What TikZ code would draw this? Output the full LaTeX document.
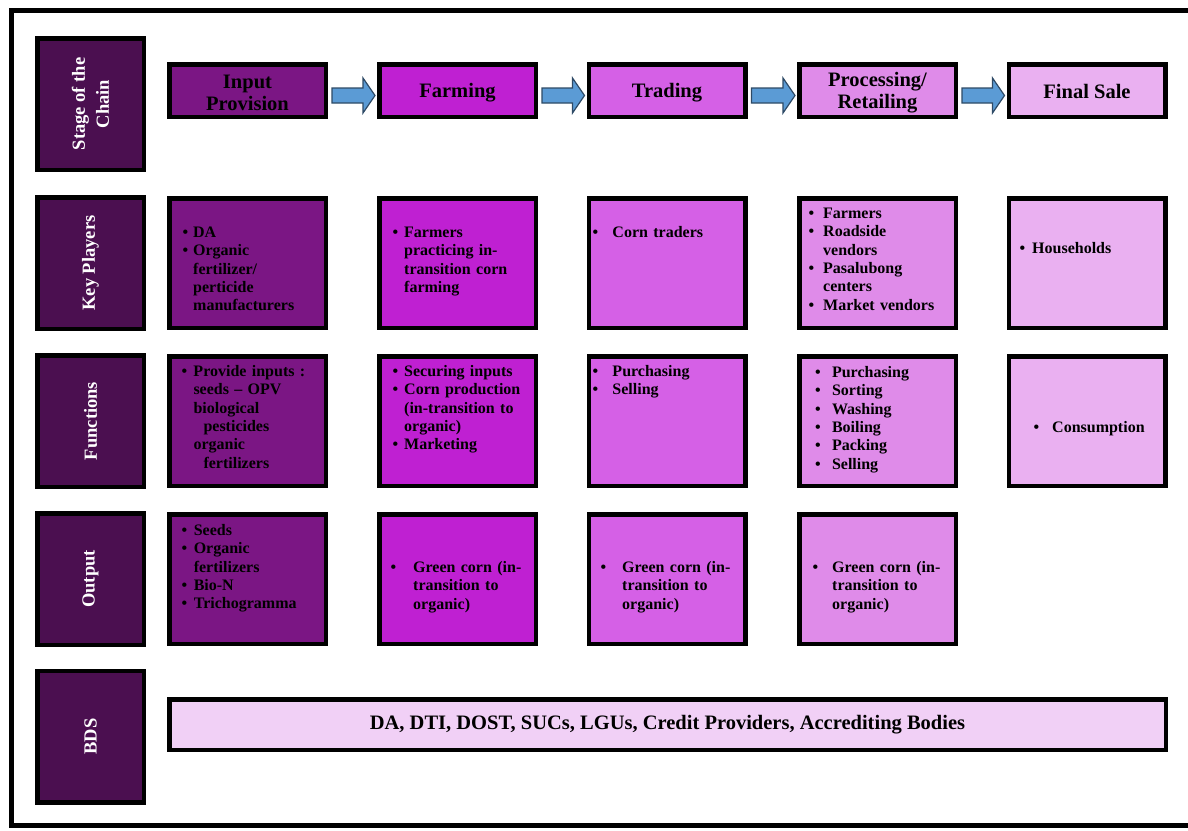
\documentclass[tikz,border=0pt]{standalone}
\usepackage{fontspec}
\setmainfont{Liberation Serif}
\usetikzlibrary{calc}

\definecolor{labcol}{HTML}{4B0F50}
\definecolor{colA}{HTML}{7B1684}
\definecolor{colB}{HTML}{BF20D2}
\definecolor{colC}{HTML}{D560E6}
\definecolor{colD}{HTML}{DF8BE9}
\definecolor{colE}{HTML}{EAB0F1}
\definecolor{colBDS}{HTML}{F1D0F6}
\definecolor{arrowfill}{HTML}{5B9BD5}
\definecolor{arrowline}{HTML}{2E4A66}

% bullet item with hanging indent \bulw; \brk breaks a line inside an item
\newlength{\bulw}
\newcommand{\brk}{\hfil\break}
\newcommand{\bitem}[1]{\par\noindent\hangindent=\bulw\hangafter=1\makebox[\bulw][l]{\rule{0pt}{12pt}\textbullet}#1\par}

\newcommand{\bodyfont}{\bfseries\fontsize{16}{18.3}\selectfont}
\newcommand{\headfont}{\bfseries\fontsize{20.5}{22}\selectfont}
\newcommand{\labfont}{\bfseries\fontsize{18.5}{24}\selectfont}

% block arrow between two stage boxes
\newcommand{\chainarrow}[2]{%
  \draw[fat] ($(#1.east)+(4,-2.5)$) -- ($(#2.west)+(-14,-2.5)$)
    -- ($(#2.west)+(-14,-12.5)$) -- ($(#2.west)+(-2,5)$)
    -- ($(#2.west)+(-14,22.5)$) -- ($(#2.west)+(-14,12.5)$)
    -- ($(#1.east)+(4,12.5)$) -- cycle;}

\begin{document}
\begin{tikzpicture}[x=1pt, y=-1pt,
  box/.style={draw=black, line width=4.5pt, inner sep=0pt,
    minimum width=156.5pt, minimum height=129.5pt},
  labbox/.style={box, fill=labcol, minimum width=106.5pt, minimum height=131.5pt},
  labtext/.style={rotate=90, text=white, font=\labfont, align=center, inner sep=0pt},
  stagebox/.style={box, minimum height=52.5pt},
  headtext/.style={font=\headfont, align=center, inner sep=0pt},
  txt/.style={anchor=north west, inner sep=0pt, text width=200pt, font=\bodyfont,
    execute at begin node=\raggedright},
  fat/.style={draw=arrowline, line width=1.2pt, fill=arrowfill, line join=miter}]

\useasboundingbox (0,0) rectangle (1188,830);

% outer frame
\draw[line width=5pt] (11,10) rectangle (1205,825);

% row labels
\node[labbox] (lstage) at (90.5,104) {};
\node[labtext] at (lstage) {Stage of the\\Chain};
\node[labbox] (lkey) at (90.5,263) {};
\node[labtext] at (lkey) {Key Players};
\node[labbox] (lfun) at (90.5,421) {};
\node[labtext] at (lfun) {Functions};
\node[labbox] (lout) at (90.5,579) {};
\node[labtext] at (lout) {Output};
\node[labbox] (lbds) at (90.5,736.5) {};
\node[labtext] at (lbds) {BDS};

% stages of the chain
\node[stagebox, fill=colA] (s1) at (247.5,90.5) {};
\node[stagebox, fill=colB] (s2) at (457.5,90.5) {};
\node[stagebox, fill=colC] (s3) at (667,90.5) {};
\node[stagebox, fill=colD] (s4) at (877.5,90.5) {};
\node[stagebox, fill=colE] (s5) at (1087,90.5) {};
\node[headtext] (s1t) at ($(s1)+(0,2)$) {Input\\Provision};
\node[headtext] (s2t) at ($(s2)+(0,2.5)$) {Farming};
\node[headtext] (s3t) at ($(s3)+(0,2.5)$) {Trading};
\node[headtext] (s4t) at ($(s4)+(0,2)$) {Processing/\\Retailing};
\node[headtext] (s5t) at ($(s5)+(0,1)$) {Final Sale};

\chainarrow{s1}{s2}
\chainarrow{s2}{s3}
\chainarrow{s3}{s4}
\chainarrow{s4}{s5}

% key players
\node[box, fill=colA] (k1) at (247.5,263) {};
\node[box, fill=colB] (k2) at (457.5,263) {};
\node[box, fill=colC] (k3) at (667,263) {};
\node[box, fill=colD] (k4) at (877.5,263) {};
\node[box, fill=colE] (k5) at (1087,263) {};
\node[txt] (k1t) at (182.3,219) {\setlength{\bulw}{10.7pt}\bitem{DA}\bitem{Organic\brk fertilizer/\brk perticide\brk manufacturers}};
\node[txt] (k2t) at (392.3,219) {\setlength{\bulw}{11.7pt}\bitem{Farmers\brk practicing in-\brk transition corn\brk farming}};
\node[txt] (k3t) at (592.3,219) {\setlength{\bulw}{20pt}\bitem{Corn traders}};
\node[txt] (k4t) at (808.3,200) {\setlength{\bulw}{14.7pt}\bitem{Farmers}\bitem{Roadside\brk vendors}\bitem{Pasalubong\brk centers}\bitem{Market vendors}};
\node[txt] (k5t) at (1019.3,235) {\setlength{\bulw}{12.7pt}\bitem{Households}};

% functions
\node[box, fill=colA] (f1) at (247.5,421) {};
\node[box, fill=colB] (f2) at (457.5,421) {};
\node[box, fill=colC] (f3) at (667,421) {};
\node[box, fill=colD] (f4) at (877.5,421) {};
\node[box, fill=colE] (f5) at (1087,421) {};
\node[txt] (f1t) at (181.3,358) {\setlength{\bulw}{12pt}\bitem{Provide inputs :\brk seeds -- OPV\brk biological\brk\hspace*{10pt}pesticides\brk organic\brk\hspace*{10pt}fertilizers}};
\node[txt] (f2t) at (392.3,358) {\setlength{\bulw}{11.7pt}\bitem{Securing inputs}\bitem{Corn production\brk (in-transition to\brk organic)}\bitem{Marketing}};
\node[txt] (f3t) at (592.3,358) {\setlength{\bulw}{20pt}\bitem{Purchasing}\bitem{Selling}};
\node[txt] (f4t) at (814.8,359) {\setlength{\bulw}{17pt}\bitem{Purchasing}\bitem{Sorting}\bitem{Washing}\bitem{Boiling}\bitem{Packing}\bitem{Selling}};
\node[txt] (f5t) at (1033.3,414) {\setlength{\bulw}{18.7pt}\bitem{Consumption}};

% output
\node[box, fill=colA] (o1) at (247.5,579) {};
\node[box, fill=colB] (o2) at (457.5,579) {};
\node[box, fill=colC] (o3) at (667,579) {};
\node[box, fill=colD] (o4) at (877.5,579) {};
\node[txt] (o1t) at (181.3,517) {\setlength{\bulw}{12.3pt}\bitem{Seeds}\bitem{Organic\brk fertilizers}\bitem{Bio-N}\bitem{Trichogramma}};
\node[txt] (o2t) at (390.3,554) {\setlength{\bulw}{22.7pt}\bitem{Green corn (in-\brk transition to\brk organic)}};
\node[txt] (o3t) at (600.3,554) {\setlength{\bulw}{21.7pt}\bitem{Green corn (in-\brk transition to\brk organic)}};
\node[txt] (o4t) at (812.3,554) {\setlength{\bulw}{19.7pt}\bitem{Green corn (in-\brk transition to\brk organic)}};

% business development services
\node[box, fill=colBDS, minimum width=996.5pt, minimum height=50.5pt, font=\headfont] (bds) at (667.5,724.5) {DA, DTI, DOST, SUCs, LGUs, Credit Providers, Accrediting Bodies};

\end{tikzpicture}
\end{document}
